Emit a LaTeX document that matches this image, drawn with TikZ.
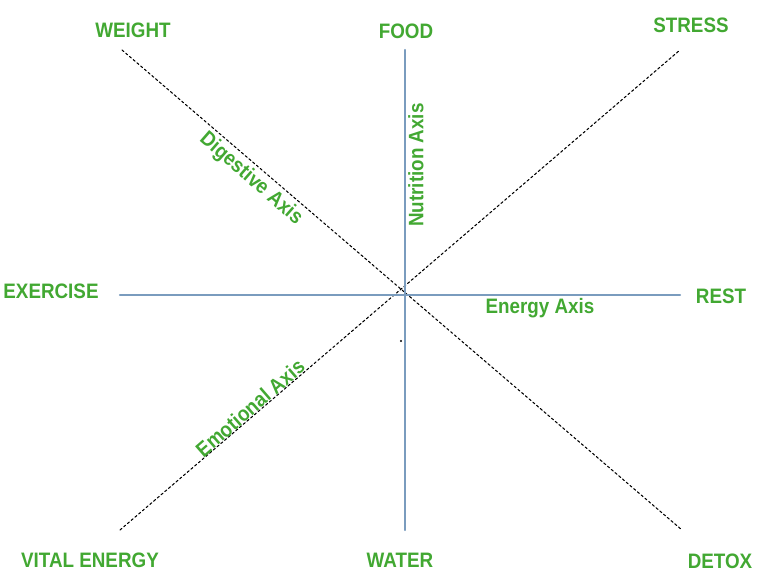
\documentclass[tikz,border=0pt]{standalone}
\usepackage{fontspec}
\setmainfont{Liberation Sans}
\newfontfamily\labelfont{Liberation Sans}[FakeStretch=0.9]
\usepackage{xcolor}
\usepackage{tkz-euclide}
\usetikzlibrary{calc}
\definecolor{labelgreen}{RGB}{66,168,50}
\definecolor{axisblue}{RGB}{122,156,190}

\begin{document}
\begin{tikzpicture}[x=0.02cm,y=-0.02cm,
  mainaxis/.style={draw=axisblue,line width=1.3pt},
  diagaxis/.style={draw=black,line width=0.6pt,dash pattern=on 1.4pt off 1.4pt},
  pole/.style={text=labelgreen,font=\labelfont\bfseries\fontsize{11.9}{14}\selectfont,inner sep=0pt},
  axisname/.style={pole}]
\useasboundingbox (0,0) rectangle (771,581);
\tkzDefPoint(405,295){O}
\tkzDefPoint(405,50){F_t}
\tkzDefPoint(405,530){W_b}
\tkzDefPoint(120,295){E_l}
\tkzDefPoint(680,295){R_r}
\tkzDefPoint(122,50){D_1}
\tkzDefPoint(682,530){D_2}
\tkzDefPoint(120,530){M_1}
\tkzDefPoint(680,50){M_2}
\tkzDrawSegments[diagaxis](D_1,D_2 M_1,M_2)
\tkzDrawSegments[mainaxis](F_t,W_b E_l,R_r)
% stray dot below the centre
\fill (401,341) circle (1.1);
% poles
\node[pole] (weight) at (133,30) {WEIGHT};
\node[pole] (food) at (406,31) {FOOD};
\node[pole] (stress) at (691,25) {STRESS};
\node[pole] (exercise) at (51,291) {EXERCISE};
\node[pole] (rest) at (721,296) {REST};
\node[pole] (vital) at (90,560) {VITAL ENERGY};
\node[pole] (water) at (400,560) {WATER};
\node[pole] (detox) at (720,561) {DETOX};
% axis names
\node[axisname] (energy) at (540,308) {Energy Axis};
\node[axisname,rotate=90] (nutrition) at (416,165) {Nutrition Axis};
\node[axisname,rotate=-41] (digestive) at (251,179) {Digestive Axis};
\node[axisname,rotate=41] (emotional) at (250,408) {Emotional Axis};
\end{tikzpicture}
\end{document}
